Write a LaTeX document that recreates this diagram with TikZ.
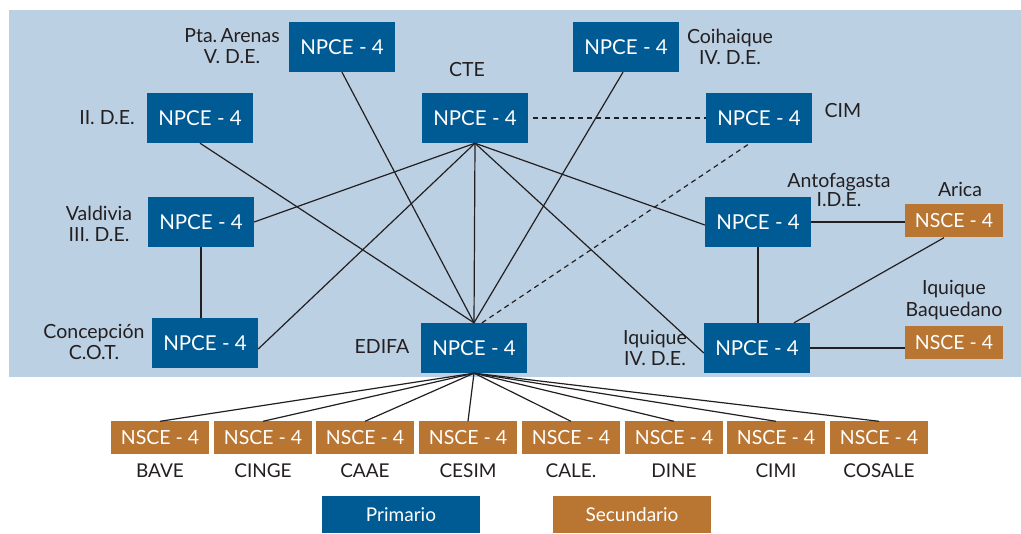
\documentclass[tikz,border=0pt]{standalone}
\usepackage{fontspec}
\setmainfont{Lato}
\definecolor{pblue}{RGB}{0,90,148}
\definecolor{sorange}{RGB}{185,117,50}
\definecolor{bgblue}{RGB}{188,208,228}
\definecolor{ink}{RGB}{35,31,32}
\begin{document}
\begin{tikzpicture}[x=1pt,y=-1pt,
  prim/.style={fill=pblue,text=white,minimum width=106pt,minimum height=50pt,inner sep=0pt,font=\fontsize{20.5}{22}\selectfont},
  sec/.style={fill=sorange,text=white,minimum width=98pt,minimum height=33pt,inner sep=0pt,font=\fontsize{19.5}{21}\selectfont},
  lbl/.style={text=ink,inner sep=0pt,align=center,font=\fontsize{19.5}{21.5}\selectfont},
  legend/.style={text=white,minimum width=158pt,minimum height=37pt,inner sep=0pt,font=\fontsize{19}{21}\selectfont},
  link/.style={draw=ink,line width=1.2pt},
  dlink/.style={link,dash pattern=on 5pt off 4pt}]
\useasboundingbox (0,0) rectangle (1021,534);
\fill[bgblue] (9,10) rectangle (1021,377);

% primary network nodes
\node[prim] (pta)  at (342,47)  {NPCE - 4};
\node[prim] (coi)  at (626,47)  {NPCE - 4};
\node[prim] (ii)   at (200,118) {NPCE - 4};
\node[prim] (cte)  at (475,118) {NPCE - 4};
\node[prim] (cim)  at (759,118) {NPCE - 4};
\node[prim] (val)  at (201,222) {NPCE - 4};
\node[prim] (ant)  at (758,222) {NPCE - 4};
\node[prim] (con)  at (205,343) {NPCE - 4};
\node[prim] (edi)  at (474,348) {NPCE - 4};
\node[prim] (iqq)  at (757,348) {NPCE - 4};

% secondary nodes
\node[sec] (ari) at (954,221) {NSCE - 4};
\node[sec] (baq) at (954,343) {NSCE - 4};
\foreach \n/\x in {bave/160,cinge/263,caae/365,cesim/468,cale/571,dine/674,cimi/776,cosale/879}
  \node[sec] (\n) at (\x,438) {NSCE - 4};

% labels
\node[lbl] (lpta) at (232,46)  {Pta.\,Arenas\\V. D.E.};
\node[lbl] (lii)  at (107,118) {II. D.E.};
\node[lbl] (lcte) at (467,70)  {CTE};
\node[lbl] (lcoi) at (730,47)  {Coihaique\\IV. D.E.};
\node[lbl] (lcim) at (843,111) {CIM};
\node[lbl,font=\fontsize{19.5}{19.5}\selectfont] (lant) at (839,190) {Antofagasta\\I.D.E.};
\node[lbl] (lari) at (960,189) {Arica};
\node[lbl] (lval) at (99,224)  {Valdivia\\III. D.E.};
\node[lbl] (lbaq) at (954,300) {Iquique\\Baquedano};
\node[lbl] (lcon) at (94,342)  {Concepción\\C.O.T.};
\node[lbl] (ledi) at (382,347) {EDIFA};
\node[lbl] (liqq) at (655,348) {Iquique\\IV. D.E.};
\foreach \n/\t in {bave/BAVE,cinge/CINGE,caae/CAAE,cesim/CESIM,cale/CALE.,dine/DINE,cimi/CIMI,cosale/COSALE}
  \node[lbl,font=\fontsize{19}{20}\selectfont,anchor=north] (l\n) at ([yshift=-9pt]\n.south) {\t};

% legend
\node[legend,fill=pblue]   (lprim) at (401,514.5) {Primario};
\node[legend,fill=sorange] (lsec)  at (632,514.5) {Secundario};

% links from CTE
\draw[link] (cte.south) -- (val.east);
\draw[link] (cte.south) -- ([yshift=-6pt]con.east);
\draw[link] (cte.south) -- (edi.north);
\draw[link] (cte.south) -- ([yshift=-3pt]ant.west);
\draw[link] (cte.south) -- ([yshift=-5pt]iqq.west);
\draw[dlink] ([xshift=5pt]cte.east) -- (cim.west);

% links into EDIFA
\draw[link] (edi.north) -- (ii.south);
\draw[link] (edi.north) -- (pta.south);
\draw[link] (edi.north) -- ([xshift=-3pt]coi.south);
\draw[dlink] ([xshift=8pt]edi.north) -- ([xshift=-9pt]cim.south);

% other links
\draw[link] (val.south) -- (con.north -| val.south);
\draw[link] (ant.south) -- (iqq.north -| ant.south);
\draw[link] (ant.east) -- (ari.west |- ant.east);
\draw[link] (iqq.east) -- (baq.west |- iqq.east);
\draw[link] ([xshift=-10pt]ari.south) -- ([xshift=37pt]iqq.north);

% fan-out to secondary nodes
\foreach \n in {bave,cinge,caae,cesim,cale,dine,cimi,cosale}
  \draw[link] (edi.south) -- (\n.north);
\end{tikzpicture}
\end{document}
